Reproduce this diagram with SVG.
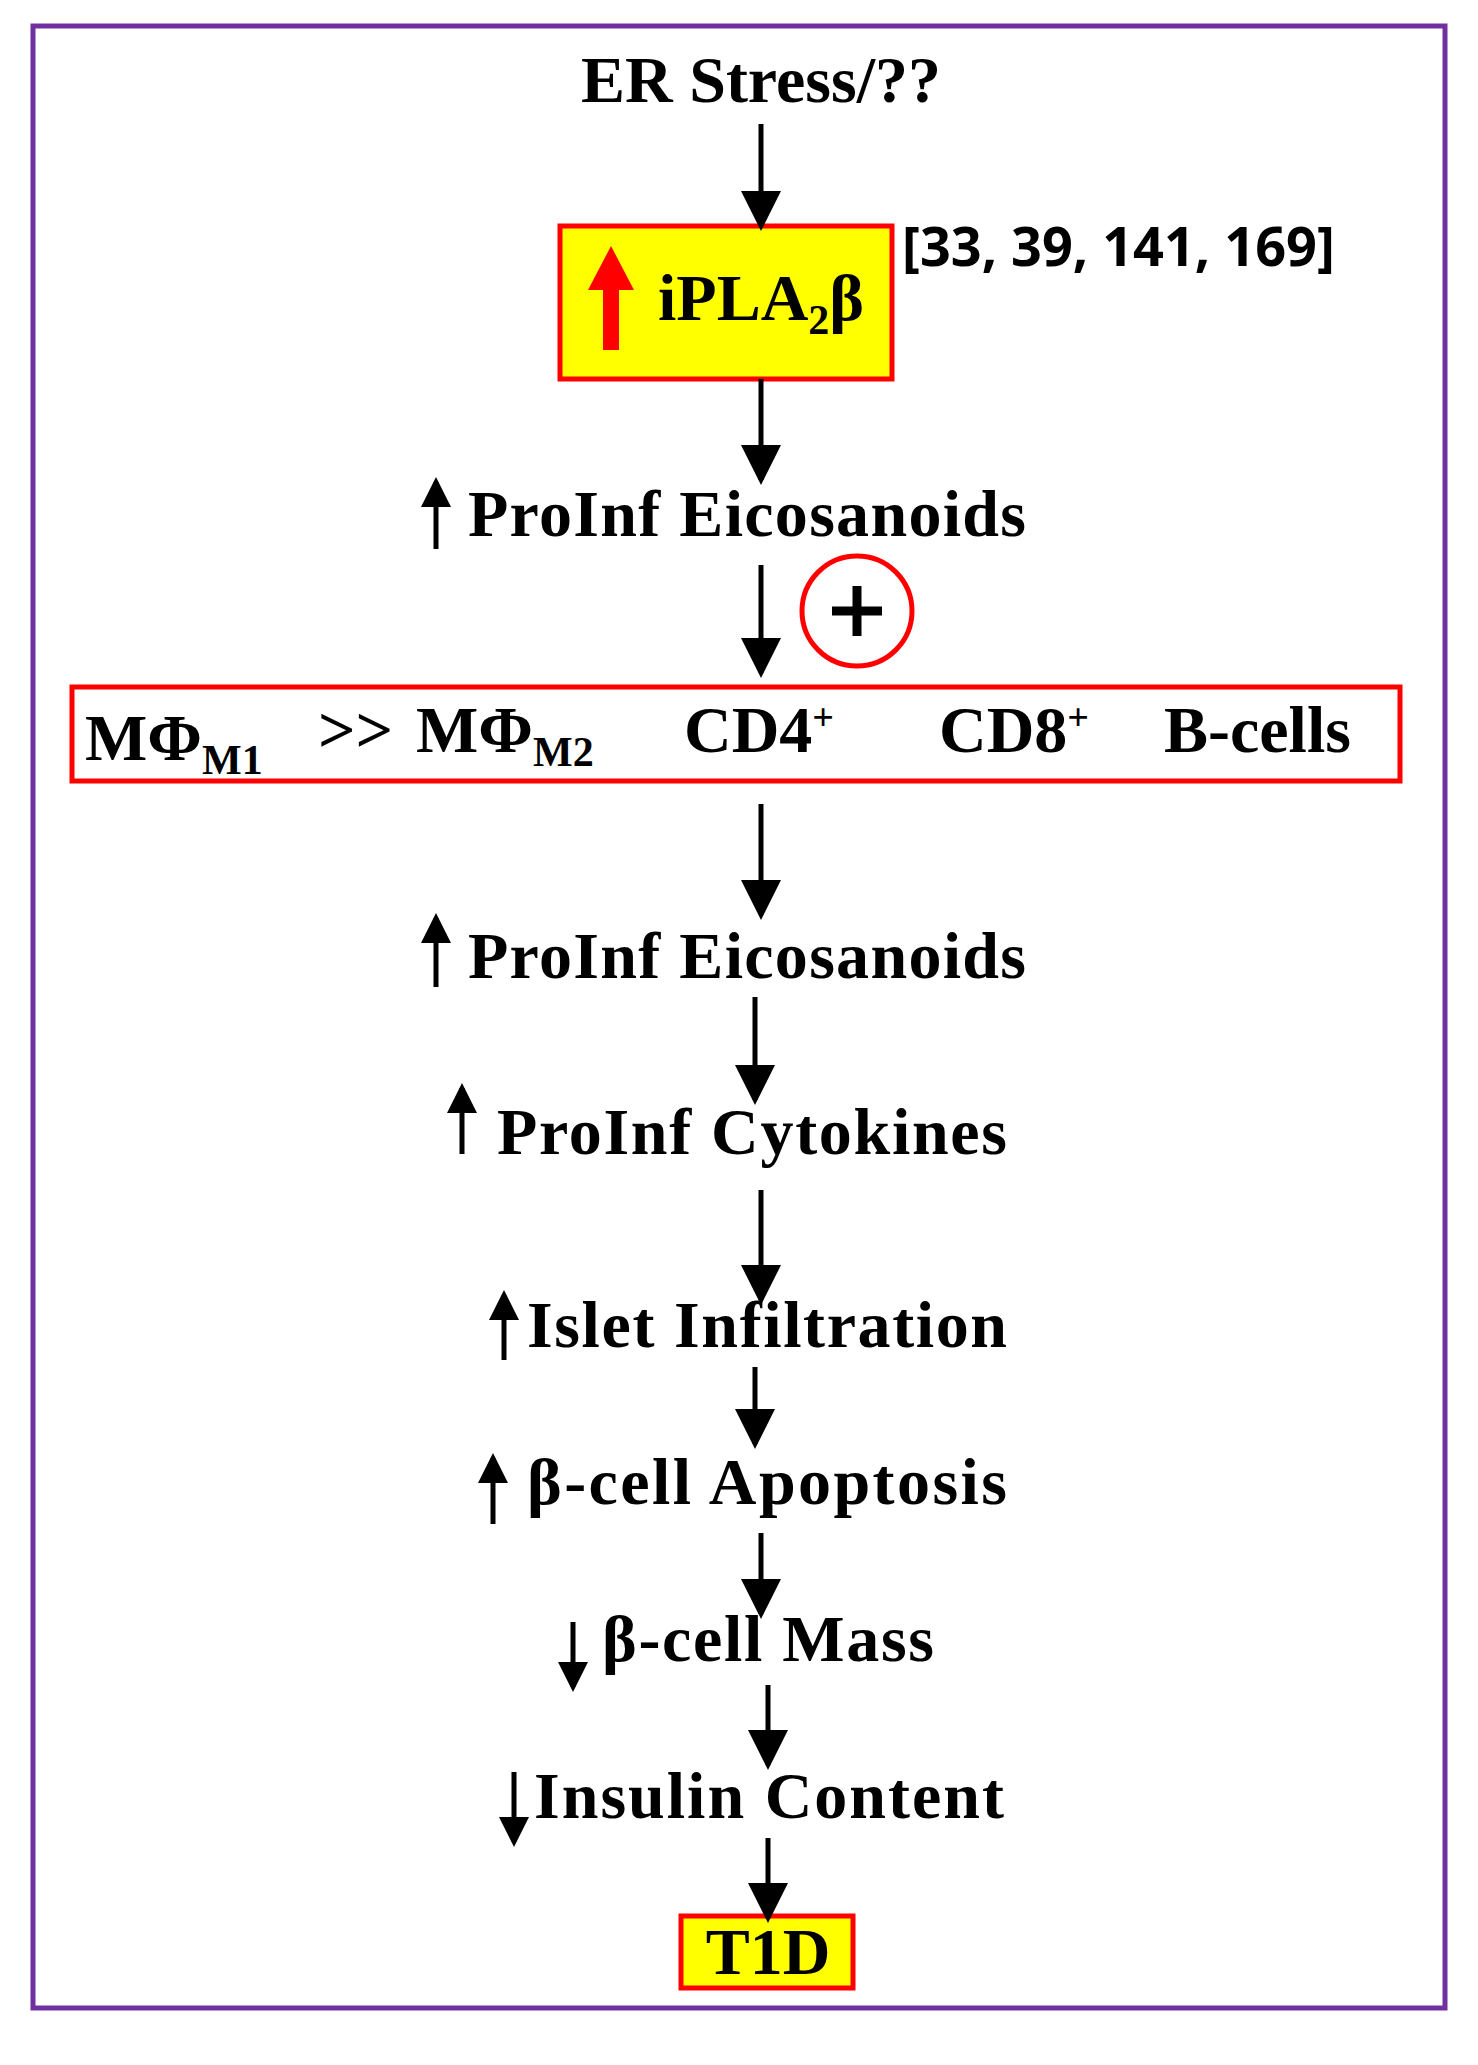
<svg xmlns="http://www.w3.org/2000/svg" width="1478" height="2065" viewBox="0 0 1478 2065">
<style>
.t{font-family:"Liberation Serif",serif;font-weight:bold;font-size:66px;fill:#000}
.c{stroke:#000;stroke-width:5;fill:none}
.s{stroke:#000;stroke-width:5;fill:none}
</style>
<defs>
<marker id="ah" markerWidth="8" markerHeight="8" refX="7" refY="4" orient="auto" markerUnits="strokeWidth"><path d="M0,0 L8,4 L0,8 z" fill="#000"/></marker>
<marker id="sh" markerWidth="6" markerHeight="6" refX="5" refY="3" orient="auto" markerUnits="strokeWidth"><path d="M0,0 L6,3 L0,6 z" fill="#000"/></marker>
</defs>
<rect x="33" y="26" width="1412" height="1982" fill="#fff" stroke="#7030a0" stroke-width="5"/>
<g id="er"><text class="t" x="761" y="102" text-anchor="middle" font-size="58">ER Stress/??</text></g>
<g id="ipla">
<rect x="560" y="226" width="332" height="153" fill="#ffff00" stroke="#ff0000" stroke-width="5"/>
<path d="M603,350 V290 H588 L611,246 L634,290 H619 V350 z" fill="#ff0000"/>
<text class="t" x="658" y="320">iPLA<tspan font-size="42" dy="14">2</tspan><tspan dy="-14">β</tspan></text>
</g>
<g id="refs"><text x="902" y="266" font-family="Open Sans,sans-serif" font-weight="bold" font-size="54">[33, 39, 141, 169]</text></g>
<g id="eico1"><text class="t" x="468" y="536" textLength="558">ProInf Eicosanoids</text></g>
<g id="plus"><circle cx="857" cy="611" r="55" fill="none" stroke="#ff0000" stroke-width="5"/><path d="M857,586 V636 M832,611 H882" stroke="#000" stroke-width="9"/></g>
<g id="cells">
<rect x="72" y="687" width="1328" height="94" fill="#fff" stroke="#ff0000" stroke-width="5"/>
<text class="t" x="85" y="760">MΦ<tspan font-size="42" dy="14">M1</tspan></text>
<text class="t" x="318" y="752">&gt;&gt;</text>
<text class="t" x="416" y="752">MΦ<tspan font-size="42" dy="14">M2</tspan></text>
<text class="t" x="684" y="752">CD4<tspan font-size="38" dy="-22">+</tspan></text>
<text class="t" x="939" y="752">CD8<tspan font-size="38" dy="-22">+</tspan></text>
<text class="t" x="1164" y="752">B-cells</text>
</g>
<g id="eico2"><text class="t" x="468" y="978" textLength="558">ProInf Eicosanoids</text></g>
<g id="cyto"><text class="t" x="497" y="1154" textLength="510">ProInf Cytokines</text></g>
<g id="islet"><text class="t" x="527" y="1347" textLength="480">Islet Infiltration</text></g>
<g id="apop"><text class="t" x="527" y="1504" textLength="480">β-cell Apoptosis</text></g>
<g id="mass"><text class="t" x="602" y="1661" textLength="332">β-cell Mass</text></g>
<g id="insulin"><text class="t" x="534" y="1818" textLength="470">Insulin Content</text></g>
<g id="t1d"><rect x="681" y="1916" width="172" height="72" fill="#ffff00" stroke="#ff0000" stroke-width="5"/><text class="t" x="768" y="1974" text-anchor="middle">T1D</text></g>
<g id="connectors">
<path class="c" d="M761,124 V226" marker-end="url(#ah)"/>
<path class="c" d="M761,379 V480" marker-end="url(#ah)"/>
<path class="c" d="M761,565 V673" marker-end="url(#ah)"/>
<path class="c" d="M761,804 V915" marker-end="url(#ah)"/>
<path class="c" d="M755,997 V1100" marker-end="url(#ah)"/>
<path class="c" d="M761,1190 V1300" marker-end="url(#ah)"/>
<path class="c" d="M755,1367 V1444" marker-end="url(#ah)"/>
<path class="c" d="M761,1533 V1614" marker-end="url(#ah)"/>
<path class="c" d="M768,1685 V1765" marker-end="url(#ah)"/>
<path class="c" d="M768,1838 V1918" marker-end="url(#ah)"/>
<path class="s" d="M436,549 V482" marker-end="url(#sh)"/>
<path class="s" d="M436,987 V918" marker-end="url(#sh)"/>
<path class="s" d="M462,1154 V1088" marker-end="url(#sh)"/>
<path class="s" d="M504,1360 V1295" marker-end="url(#sh)"/>
<path class="s" d="M493,1524 V1458" marker-end="url(#sh)"/>
<path class="s" d="M573,1622 V1687" marker-end="url(#sh)"/>
<path class="s" d="M514,1772 V1842" marker-end="url(#sh)"/>
</g>
</svg>
